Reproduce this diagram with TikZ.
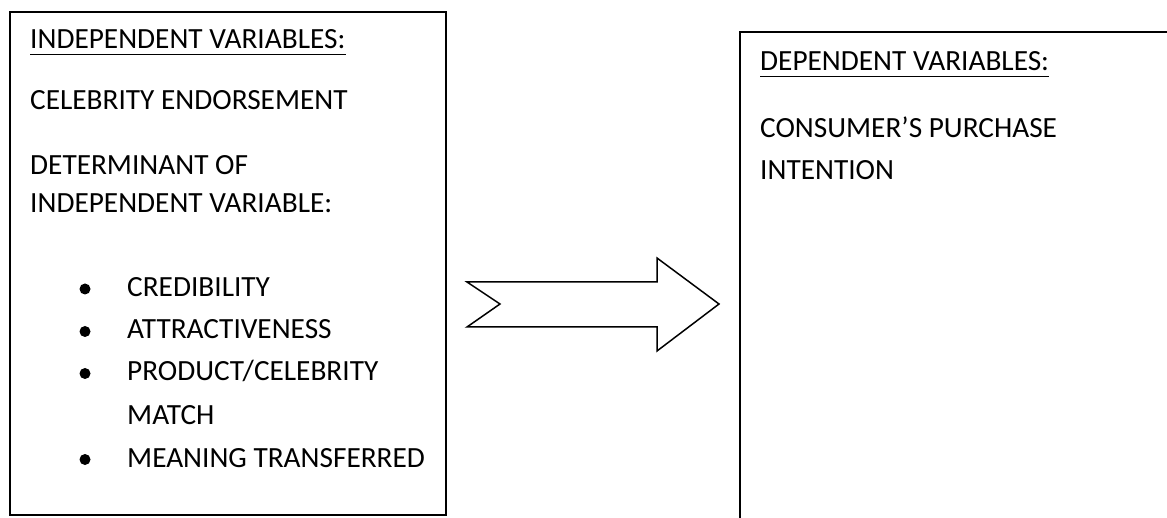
\documentclass[tikz,border=0pt]{standalone}
\usepackage{fontspec}
\setmainfont{Carlito}
\begin{document}
\begin{tikzpicture}[x=1pt,y=-1pt,
  txt/.style={anchor=base west, inner sep=0pt, font=\fontsize{29.3}{34}\selectfont},
  box/.style={draw, line width=1.6pt},
  ul/.style={line width=1.8pt},
  bul/.style={circle, fill, inner sep=0pt, minimum size=11pt},
  shape arrow/.style={draw, line width=1.5pt, line join=miter, fill=white}]
\useasboundingbox (0,0) rectangle (1167,518);
\clip (0,0) rectangle (1167,518);
% left box
\draw[box] (10,12) rectangle (446,515);
\node[txt] (iv) at (30,49) {INDEPENDENT VARIABLES:};
\draw[ul] ([yshift=-5.5pt]iv.base west) -- ([yshift=-5.5pt]iv.base east);
\node[txt] (ce) at (30,110) {CELEBRITY ENDORSEMENT};
\node[txt] (d1) at (30,175) {DETERMINANT OF};
\node[txt] (d2) at (30,213) {INDEPENDENT VARIABLE:};
\node[txt] (b1) at (127,297) {CREDIBILITY};
\node[txt] (b2) at (127,339) {ATTRACTIVENESS};
\node[txt] (b3) at (127,381) {PRODUCT/CELEBRITY};
\node[txt] (b3b) at (127,424) {MATCH};
\node[txt] (b4) at (127,467) {MEANING TRANSFERRED};
\node[bul] (o1) at (85,289) {};
\node[bul] (o2) at (85,331.5) {};
\node[bul] (o3) at (85,373.5) {};
\node[bul] (o4) at (85,459.5) {};
% arrow
\draw[shape arrow] (467,282) -- (657,282) -- (657,258) -- (719,304) -- (657,351) -- (657,327) -- (467,327) -- (500,304) -- cycle;
% right box
\draw[box] (740,530) -- (740,32) -- (1180,32);
\node[txt] (dv) at (760,71) {DEPENDENT VARIABLES:};
\draw[ul] ([yshift=-5.5pt]dv.base west) -- ([yshift=-5.5pt]dv.base east);
\node[txt] (cp1) at (760,138) {CONSUMER’S PURCHASE};
\node[txt] (cp2) at (760,180) {INTENTION};
\end{tikzpicture}
\end{document}
